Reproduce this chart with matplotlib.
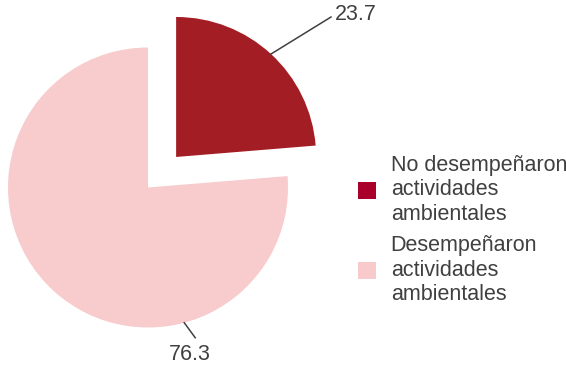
import numpy as np
import matplotlib.pyplot as plt
from matplotlib.patches import Patch

plt.rcParams['font.family'] = ['Liberation Sans', 'DejaVu Sans']

# datos
categorias = ["No desempeñaron\nactividades\nambientales", "Desempeñaron\nactividades\nambientales"]
valores = [23.7, 76.3]
etiquetas = ["23.7", "76.3"]
colores = ["#A31D25", "#F8CBCD"]
colores_leyenda = ["#A8002A", "#F8CACC"]
texto_color = "#404040"

W, H = 566, 374
fig = plt.figure(figsize=(W / 100, H / 100), dpi=100)
ax = fig.add_axes([0, 0, 1, 1])

centro = (148, H - 187.5)
radio = 140
separacion = 41.5  # en pixeles (pie no escala el explode con el radio)

wedges, _ = ax.pie(valores, colors=colores, startangle=90, counterclock=False,
                   explode=[separacion, 0], center=centro, radius=radio,
                   wedgeprops=dict(linewidth=0))
ax.set_xlim(0, W)
ax.set_ylim(0, H)
ax.set_aspect('equal')
ax.axis('off')

# etiqueta 23.7 (porción separada)
w = wedges[0]
ang = np.deg2rad((w.theta1 + w.theta2) / 2)
cx, cy = w.center
p0 = (cx + radio * np.cos(ang), cy + radio * np.sin(ang))
ax.plot([p0[0], p0[0] + 60], [p0[1], p0[1] + 37], color="#404040", lw=1.1)
ax.text(p0[0] + 64, p0[1] + 40, etiquetas[0], fontsize=15.5, color=texto_color,
        ha='left', va='center')

# etiqueta 76.3
ang2 = np.deg2rad(-75)
cx2, cy2 = wedges[1].center
q0 = (cx2 + radio * np.cos(ang2), cy2 + radio * np.sin(ang2))
ax.plot([q0[0], q0[0] + 11], [q0[1], q0[1] - 15], color="#404040", lw=1.1)
ax.text(q0[0] + 6, q0[1] - 32, etiquetas[1], fontsize=15.5, color=texto_color,
        ha='center', va='center')

handles = [Patch(facecolor=c, edgecolor='none') for c in colores_leyenda]
leg = fig.legend(handles, categorias, loc='center left',
                 bbox_to_anchor=(358 / W, 1 - 230 / H), frameon=False,
                 fontsize=15.5, handlelength=0.82, handleheight=0.82,
                 handletextpad=0.7, labelspacing=0.5, borderpad=0,
                 borderaxespad=0)
for t in leg.get_texts():
    t.set_color(texto_color)

fig.savefig("out.png", dpi=100)
